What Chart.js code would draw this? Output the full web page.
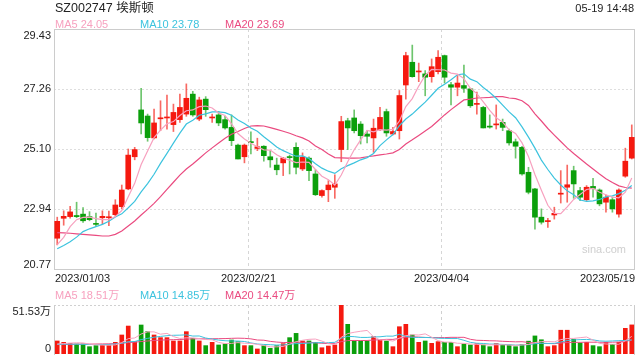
<!DOCTYPE html>
<html>
<head>
<meta charset="utf-8">
<script src="https://cdn.jsdelivr.net/npm/chart.js@4.4.0/dist/chart.umd.min.js"></script>
<style>
  body { margin: 0; background: #fff; }
  #wrap { position: relative; width: 640px; height: 360px; overflow: hidden;
          font-family: Arial, "Liberation Sans", "Noto Sans CJK SC", sans-serif; }
  #wrap canvas { position: absolute; left: 0; }
  .t { position: absolute; white-space: nowrap; height: 16px; line-height: 16px; }
</style>
</head>
<body>
<div id="wrap">
  <canvas id="kline" width="640" height="290" style="top:0"></canvas>
  <canvas id="vol" width="640" height="70" style="top:290px"></canvas>

  <div class="t" style="left:55px;top:0;font-size:12.5px;color:#222">SZ002747 埃斯顿</div>
  <div class="t" style="right:6px;top:0;font-size:11px;color:#222">05-19 14:48</div>
  <div class="t" id="lg1" style="left:55px;top:16px;font-size:11px;color:#f7a1bf"></div>
  <div class="t" id="lg2" style="left:140px;top:16px;font-size:11px;color:#3cc3de"></div>
  <div class="t" id="lg3" style="left:225px;top:16px;font-size:11px;color:#ea4b80"></div>
  <div class="t" style="left:582px;top:241px;font-size:11px;color:#cfcfcf">sina.com</div>
  <div class="t" id="vlg1" style="left:55px;top:287px;font-size:11px;color:#f7a1bf"></div>
  <div class="t" id="vlg2" style="left:140px;top:287px;font-size:11px;color:#3cc3de"></div>
  <div class="t" id="vlg3" style="left:225px;top:287px;font-size:11px;color:#ea4b80"></div>
</div>

<script>
// trading days shown on the chart
const dates = [
  "2023/01/03","2023/01/04","2023/01/05","2023/01/06","2023/01/09","2023/01/10","2023/01/11","2023/01/12",
  "2023/01/13","2023/01/16","2023/01/17","2023/01/18","2023/01/19","2023/01/20","2023/01/30","2023/01/31",
  "2023/02/01","2023/02/02","2023/02/03","2023/02/06","2023/02/07","2023/02/08","2023/02/09","2023/02/10",
  "2023/02/13","2023/02/14","2023/02/15","2023/02/16","2023/02/17","2023/02/20","2023/02/21","2023/02/22",
  "2023/02/23","2023/02/24","2023/02/27","2023/02/28","2023/03/01","2023/03/02","2023/03/03","2023/03/06",
  "2023/03/07","2023/03/08","2023/03/09","2023/03/10","2023/03/13","2023/03/14","2023/03/15","2023/03/16",
  "2023/03/17","2023/03/20","2023/03/21","2023/03/22","2023/03/23","2023/03/24","2023/03/27","2023/03/28",
  "2023/03/29","2023/03/30","2023/03/31","2023/04/03","2023/04/04","2023/04/06","2023/04/07","2023/04/10",
  "2023/04/11","2023/04/12","2023/04/13","2023/04/14","2023/04/17","2023/04/18","2023/04/19","2023/04/20",
  "2023/04/21","2023/04/24","2023/04/25","2023/04/26","2023/04/27","2023/04/28","2023/05/04","2023/05/05",
  "2023/05/08","2023/05/09","2023/05/10","2023/05/11","2023/05/12","2023/05/15","2023/05/16","2023/05/17",
  "2023/05/18","2023/05/19"
];

const opens = [
  21.88,22.60,22.66,22.70,22.75,22.66,22.41,22.62,22.62,22.73,
  23.02,23.66,24.82,26.51,26.29,25.50,26.19,26.22,25.98,26.16,
  26.36,27.08,26.18,26.90,26.22,26.33,26.16,25.88,25.24,24.82,
  25.35,25.12,25.20,24.82,24.52,24.60,24.81,25.16,24.38,24.77,
  24.20,23.42,23.63,23.72,25.08,26.12,26.22,26.00,25.64,25.50,
  25.80,26.45,25.64,25.76,27.41,28.23,27.88,27.81,27.71,27.89,
  28.47,27.42,27.33,27.39,27.27,26.71,26.60,25.92,25.97,26.06,
  25.76,25.36,25.16,24.26,23.66,22.64,22.48,22.72,23.47,23.72,
  24.32,23.60,23.27,23.75,23.62,23.18,23.27,22.75,24.12,24.77
];
const highs = [
  22.64,22.87,23.03,23.18,22.99,22.84,22.79,22.87,22.86,23.27,
  23.80,25.10,25.16,27.29,26.36,26.54,26.84,27.05,26.72,27.08,
  27.45,27.18,26.97,26.99,26.36,26.45,26.28,26.33,25.28,25.28,
  25.72,25.49,25.22,25.04,24.77,24.80,24.88,25.32,24.96,24.82,
  24.35,23.63,23.96,24.17,26.28,26.21,26.51,26.09,25.76,26.18,
  26.60,26.54,25.88,27.21,28.59,28.85,28.20,27.93,28.35,28.65,
  28.49,27.51,27.75,28.13,27.29,27.15,26.64,26.33,26.69,26.18,
  25.82,25.46,25.20,24.44,23.68,22.94,22.60,23.00,24.32,24.52,
  24.48,23.72,23.78,24.04,23.66,23.44,23.36,23.66,25.13,25.97
];
const lows = [
  21.64,22.35,22.60,22.62,22.45,22.51,22.31,22.39,22.33,22.69,
  22.94,23.63,24.71,25.64,25.38,25.46,25.76,25.82,25.73,26.06,
  26.28,26.28,26.12,26.28,26.06,25.94,25.82,25.22,24.74,24.60,
  24.92,25.04,24.66,24.44,24.17,24.14,24.20,24.20,24.32,23.96,
  23.42,23.36,23.20,23.32,24.64,25.08,25.68,25.28,25.32,24.98,
  25.76,25.56,25.61,25.46,26.90,27.69,27.53,27.02,27.51,27.81,
  27.48,26.69,27.02,27.14,26.60,26.36,25.86,25.85,25.82,25.76,
  25.24,24.77,24.16,23.48,22.21,22.39,22.27,22.57,23.15,23.18,
  23.32,23.24,23.24,23.36,23.05,22.82,22.82,22.64,24.08,24.74
];
const closes = [
  22.49,22.67,22.83,22.66,22.51,22.55,22.38,22.67,22.64,23.08,
  23.62,24.88,25.08,26.04,25.51,26.04,26.22,26.25,26.42,26.60,
  26.93,26.33,26.87,26.52,26.25,26.04,25.86,25.40,24.74,25.24,
  25.33,25.18,24.86,24.71,24.35,24.77,24.79,24.44,24.80,24.32,
  23.45,23.60,23.80,23.84,26.09,25.86,25.76,25.58,25.56,25.85,
  26.24,25.68,25.73,27.03,28.47,27.71,27.91,27.69,28.07,28.41,
  27.69,27.33,27.48,27.29,26.66,26.73,25.86,25.89,25.99,25.88,
  25.32,25.20,24.20,23.54,22.64,22.46,22.50,22.78,23.49,23.81,
  23.84,23.36,23.72,23.68,23.12,23.36,22.94,23.62,24.66,25.52
];

const ma5 = [
  21.65,21.91,22.30,22.55,22.63,22.64,22.59,22.55,22.55,22.66,
  22.88,23.38,23.86,24.54,25.03,25.51,25.78,26.01,26.09,26.31,
  26.48,26.51,26.63,26.65,26.58,26.40,26.31,26.01,25.66,25.46,
  25.31,25.18,25.07,25.06,24.89,24.77,24.70,24.61,24.63,24.62,
  24.36,24.12,23.99,23.80,24.16,24.64,25.07,25.43,25.77,25.72,
  25.80,25.78,25.81,26.11,26.63,26.92,27.37,27.76,27.97,27.96,
  27.95,27.84,27.80,27.64,27.29,27.10,26.80,26.49,26.23,26.07,
  25.79,25.66,25.32,24.83,24.18,23.61,23.07,22.78,22.77,23.01,
  23.28,23.46,23.64,23.68,23.54,23.45,23.36,23.34,23.54,24.05
];
const ma10 = [
  21.50,21.62,21.75,21.92,22.12,22.22,22.30,22.38,22.49,22.65,
  22.76,22.98,23.21,23.55,23.85,24.19,24.58,24.94,25.31,25.67,
  26.00,26.14,26.32,26.37,26.44,26.44,26.41,26.32,26.15,26.02,
  25.86,25.74,25.54,25.36,25.17,25.04,24.94,24.84,24.85,24.76,
  24.57,24.41,24.30,24.22,24.39,24.50,24.60,24.71,24.79,24.94,
  25.22,25.43,25.62,25.94,26.18,26.36,26.58,26.79,27.04,27.29,
  27.44,27.60,27.78,27.81,27.62,27.53,27.32,27.14,26.93,26.68,
  26.44,26.23,25.90,25.53,25.13,24.70,24.36,24.05,23.80,23.59,
  23.45,23.26,23.21,23.23,23.28,23.37,23.41,23.49,23.61,23.78
];
const ma20 = [
  22.08,22.07,22.06,22.04,22.02,22.00,21.98,21.96,21.96,22.02,
  22.14,22.32,22.50,22.72,22.92,23.14,23.38,23.64,23.90,24.16,
  24.38,24.56,24.76,24.96,25.14,25.32,25.49,25.63,25.73,25.84,
  25.93,25.94,25.93,25.87,25.81,25.74,25.67,25.58,25.50,25.39,
  25.21,25.08,24.92,24.79,24.78,24.77,24.77,24.78,24.82,24.85,
  24.89,24.92,24.96,25.08,25.28,25.43,25.59,25.75,25.91,26.12,
  26.33,26.52,26.70,26.87,26.90,26.94,26.95,26.96,26.99,26.99,
  26.94,26.92,26.84,26.67,26.37,26.11,25.84,25.60,25.37,25.14,
  24.94,24.75,24.56,24.38,24.20,24.03,23.89,23.77,23.71,23.69
];

// volume, in 万 (10k shares)
const volumes = [
  13.7,12.3,11.2,10.5,10.5,7.7,8.8,9.5,9.5,12.3,
  20.0,29.4,13.0,30.5,23.5,20.0,17.2,17.2,13.7,13.7,
  23.5,16.5,13.7,8.8,12.3,9.5,10.5,14.7,13.0,8.8,
  8.8,5.3,8.8,6.0,8.8,10.9,17.2,21.7,13.7,13.7,
  12.3,6.6,8.4,9.5,51.53,31.2,13.7,13.7,13.7,18.2,
  14.7,13.7,7.7,28.7,31.2,20.0,12.3,13.7,11.2,13.0,
  12.3,12.3,7.7,10.5,9.5,10.9,9.5,7.7,10.9,9.5,
  9.5,7.7,10.2,13.5,19.0,15.0,7.7,8.8,25.0,25.0,
  15.5,11.5,12.3,8.8,7.7,12.3,10.2,12.3,27.0,30.6
];
const volMa5 = [
  10.5,11.0,11.5,11.8,11.64,10.44,9.74,9.40,9.20,9.56,
  12.02,16.14,16.84,21.04,23.28,23.28,20.84,21.68,18.32,16.36,
  17.06,16.92,16.22,15.24,14.96,12.16,10.96,11.16,12.00,11.30,
  11.16,10.12,8.94,7.54,7.54,7.96,10.34,12.92,14.46,15.44,
  15.72,13.60,10.94,10.10,17.67,21.45,22.87,23.93,24.77,18.10,
  14.80,14.80,13.60,16.60,19.20,20.26,19.98,21.18,17.68,14.04,
  12.50,12.50,11.30,11.16,10.46,10.18,9.62,9.62,9.70,9.70,
  9.42,9.06,9.56,10.08,11.98,13.08,13.08,12.80,15.10,16.30,
  16.40,17.16,17.86,14.62,11.16,10.52,10.26,10.26,13.90,18.51
];
const volMa10 = [
  10.2,10.3,10.4,10.3,10.2,10.0,9.9,9.9,10.0,10.60,
  11.23,12.94,13.12,15.12,16.42,17.65,18.49,19.26,19.68,19.82,
  20.17,18.88,18.95,16.78,15.66,14.61,13.94,13.69,13.62,13.13,
  11.66,10.54,10.05,9.77,9.42,9.56,10.23,10.93,11.00,11.49,
  11.84,11.97,11.93,12.28,16.55,18.58,18.23,17.43,17.43,17.88,
  18.12,18.83,18.76,20.68,18.65,17.53,17.39,17.39,17.14,16.62,
  16.38,16.24,16.24,14.42,12.25,11.34,11.06,10.46,10.43,10.08,
  9.80,9.34,9.59,9.89,10.84,11.25,11.07,11.18,12.59,14.14,
  14.74,15.12,15.33,14.86,13.73,13.46,13.71,14.06,14.26,14.85
];
const volMa20 = [
  10.0,10.1,10.2,10.3,10.4,10.4,10.5,10.6,10.7,10.9,
  11.3,12.0,12.4,13.1,13.7,14.2,14.6,14.9,15.1,15.21,
  15.70,15.91,16.04,15.95,16.04,16.13,16.22,16.48,16.65,16.48,
  15.92,14.71,14.50,13.28,12.54,12.09,12.09,12.31,12.31,12.31,
  11.75,11.26,10.99,11.03,12.99,14.07,14.23,14.18,14.22,14.69,
  14.98,15.40,15.35,16.48,17.60,18.06,17.81,17.41,17.29,17.25,
  17.25,17.54,17.50,17.55,15.45,14.44,14.23,13.93,13.79,13.35,
  13.09,12.79,12.92,12.16,11.55,11.30,11.07,10.82,11.51,12.11,
  12.27,12.23,12.46,12.38,12.29,12.36,12.39,12.62,13.43,14.47
];

const priceTicks = [20.77, 22.94, 25.10, 27.26, 29.43];
const volTicks = [0, 51.53];
const dateTicks = ["2023/01/03", "2023/02/21", "2023/04/04", "2023/05/19"];

const UP = "#f5190f";
const DOWN = "#0b9f0b";
const UP_WICK = "rgba(245,25,15,0.65)";
const DOWN_WICK = "rgba(11,159,11,0.6)";
const C_MA5 = "#f7a1bf";
const C_MA10 = "#3cc3de";
const C_MA20 = "#ea4b80";
const FONT = '11px Arial, "Liberation Sans", "Noto Sans CJK SC", sans-serif';

const isUp = closes.map((c, i) => c >= opens[i]);
const candleColors = isUp.map((u) => (u ? UP : DOWN));
const wickColors = isUp.map((u) => (u ? UP_WICK : DOWN_WICK));
const last = closes.length - 1;

document.getElementById("lg1").textContent = "MA5 " + ma5[last].toFixed(2);
document.getElementById("lg2").textContent = "MA10 " + ma10[last].toFixed(2);
document.getElementById("lg3").textContent = "MA20 " + ma20[last].toFixed(2);
document.getElementById("vlg1").textContent = "MA5 " + volMa5[last].toFixed(2) + "万";
document.getElementById("vlg2").textContent = "MA10 " + volMa10[last].toFixed(2) + "万";
document.getElementById("vlg3").textContent = "MA20 " + volMa20[last].toFixed(2) + "万";

// x of the grid line for a date: left edge of its category slot
function slotEdge(xs, idx) {
  const step = xs.getPixelForValue(1) - xs.getPixelForValue(0);
  return Math.round(xs.getPixelForValue(idx) - step / 2) + 0.5;
}

function lineSet(data, color, width) {
  return {
    type: "line", data: data, borderColor: color, borderWidth: width,
    pointRadius: 0, fill: false, tension: 0, order: 0
  };
}

// frame, grid lines and axis texts of the price panel
const priceFrame = {
  id: "priceFrame",
  beforeDatasetsDraw(chart) {
    const { ctx, chartArea: a } = chart;
    const xs = chart.scales.x, ys = chart.scales.y;
    ctx.save();
    ctx.lineWidth = 1;
    ctx.strokeStyle = "#dedede";
    ctx.setLineDash([2, 2]);
    priceTicks.slice(1, -1).forEach((v) => {
      const y = Math.round(ys.getPixelForValue(v)) + 0.5;
      ctx.beginPath(); ctx.moveTo(a.left, y); ctx.lineTo(a.right, y); ctx.stroke();
    });
    ctx.strokeStyle = "#d6d6d6";
    ctx.setLineDash([3, 3]);
    dateTicks.slice(1, -1).forEach((d) => {
      const x = slotEdge(xs, dates.indexOf(d));
      ctx.beginPath(); ctx.moveTo(x, a.top); ctx.lineTo(x, a.bottom); ctx.stroke();
    });
    ctx.setLineDash([]);
    ctx.strokeStyle = "#cccccc";
    ctx.strokeRect(Math.round(a.left) + 0.5, Math.round(a.top) + 0.5,
      Math.round(a.right - a.left) - 1, Math.round(a.bottom - a.top));
    ctx.restore();
  },
  afterDraw(chart) {
    const { ctx, chartArea: a } = chart;
    const xs = chart.scales.x, ys = chart.scales.y;
    ctx.save();
    ctx.font = FONT;
    ctx.fillStyle = "#222";
    ctx.textAlign = "right";
    priceTicks.forEach((v, i) => {
      ctx.textBaseline = i === 0 ? "bottom" : i === priceTicks.length - 1 ? "top" : "middle";
      let y = ys.getPixelForValue(v);
      if (i === 0) y += 1;
      if (i === priceTicks.length - 1) y += 1;
      ctx.fillText(v.toFixed(2), a.left - 3, y);
    });
    ctx.textBaseline = "middle";
    dateTicks.forEach((d, i) => {
      let x = slotEdge(xs, dates.indexOf(d));
      ctx.textAlign = "center";
      if (i === 0) { ctx.textAlign = "left"; x = a.left + 1; }
      if (i === dateTicks.length - 1) { ctx.textAlign = "right"; x = a.right; }
      ctx.fillText(d, x, a.bottom + 10);
    });
    ctx.restore();
  }
};

new Chart(document.getElementById("kline"), {
  type: "bar",
  data: {
    labels: dates,
    datasets: [
      lineSet(ma5, C_MA5, 1.2),
      lineSet(ma10, C_MA10, 1.2),
      lineSet(ma20, C_MA20, 1.2),
      {
        data: dates.map((d, i) => [lows[i], highs[i]]),
        backgroundColor: wickColors, barThickness: 1, grouped: false, order: 2
      },
      {
        data: dates.map((d, i) => [opens[i], closes[i]]),
        backgroundColor: candleColors, barThickness: 5, grouped: false,
        minBarLength: 1, order: 1
      }
    ]
  },
  options: {
    responsive: false,
    animation: false,
    layout: { padding: { left: 54, right: 5, top: 29, bottom: 21 } },
    plugins: { legend: { display: false }, tooltip: { enabled: false } },
    scales: {
      x: { display: false, offset: true },
      y: { display: false, min: priceTicks[0], max: priceTicks[priceTicks.length - 1] }
    }
  },
  plugins: [priceFrame]
});

// frame, grid lines and axis texts of the volume panel
const volFrame = {
  id: "volFrame",
  beforeDatasetsDraw(chart) {
    const { ctx, chartArea: a } = chart;
    const xs = chart.scales.x;
    ctx.save();
    ctx.lineWidth = 1;
    ctx.strokeStyle = "#d0d0d0";
    ctx.setLineDash([2, 2]);
    const top = Math.round(a.top) + 0.5;
    ctx.beginPath(); ctx.moveTo(a.left, top); ctx.lineTo(a.right, top); ctx.stroke();
    ctx.setLineDash([3, 3]);
    dateTicks.slice(1, -1).forEach((d) => {
      const x = slotEdge(xs, dates.indexOf(d));
      ctx.beginPath(); ctx.moveTo(x, a.top); ctx.lineTo(x, a.bottom); ctx.stroke();
    });
    ctx.setLineDash([]);
    ctx.strokeStyle = "#cccccc";
    const l = Math.round(a.left) + 0.5, r = Math.round(a.right) - 0.5;
    ctx.beginPath(); ctx.moveTo(l, a.top); ctx.lineTo(l, a.bottom + 1); ctx.stroke();
    ctx.beginPath(); ctx.moveTo(r, a.top); ctx.lineTo(r, a.bottom + 1); ctx.stroke();
    ctx.restore();
  },
  afterDraw(chart) {
    const { ctx, chartArea: a } = chart;
    const ys = chart.scales.y;
    ctx.save();
    ctx.font = FONT;
    ctx.fillStyle = "#222";
    ctx.textAlign = "right";
    volTicks.forEach((v, i) => {
      ctx.textBaseline = i === 0 ? "bottom" : "top";
      const y = ys.getPixelForValue(v) + (i === 0 ? 0 : 1);
      ctx.fillText(v === 0 ? "0" : v.toFixed(2) + "万", a.left - 3, y);
    });
    ctx.restore();
  }
};

new Chart(document.getElementById("vol"), {
  type: "bar",
  data: {
    labels: dates,
    datasets: [
      lineSet(volMa5, C_MA5, 1),
      lineSet(volMa10, C_MA10, 1),
      lineSet(volMa20, C_MA20, 1),
      { data: volumes, backgroundColor: candleColors, barThickness: 4, order: 1 }
    ]
  },
  options: {
    responsive: false,
    animation: false,
    layout: { padding: { left: 54, right: 5, top: 15, bottom: 6 } },
    plugins: { legend: { display: false }, tooltip: { enabled: false } },
    scales: {
      x: { display: false, offset: true },
      y: { display: false, min: volTicks[0], max: volTicks[1] }
    }
  },
  plugins: [volFrame]
});
</script>
</body>
</html>
